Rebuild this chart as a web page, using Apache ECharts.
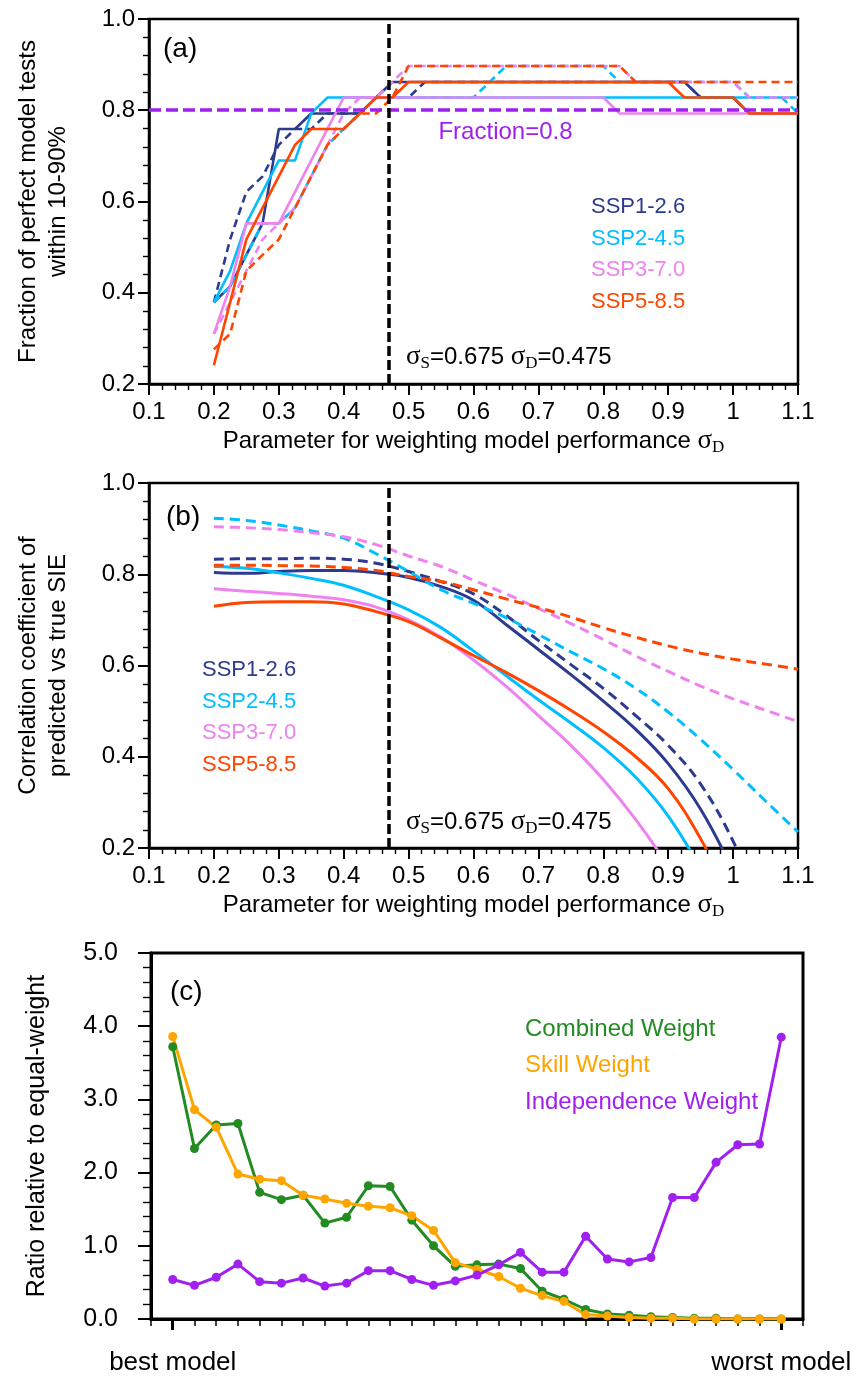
<!DOCTYPE html>
<html>
<head>
<meta charset="utf-8">
<script src="https://cdn.jsdelivr.net/npm/echarts@6/dist/echarts.min.js"></script>
<style>
html,body{margin:0;padding:0;background:#fff;}
#chart{width:860px;height:1376px;}
</style>
</head>
<body>
<div id="chart"></div>
<script>
// ---------------- DATA ----------------
// Panel (a): fraction of perfect model tests within 10-90%
const sigmaA = [0.2,0.225,0.25,0.275,0.3,0.325,0.35,0.375,0.4,0.425,0.45,0.475,0.5,0.525,0.55,0.575,0.6,0.625,0.65,0.675,0.7,0.725,0.75,0.775,0.8,0.825,0.85,0.875,0.9,0.925,0.95,0.975,1.0,1.025,1.05,1.075,1.1];
const a_ssp126_solid = [0.379,0.414,0.483,0.552,0.759,0.759,0.793,0.793,0.793,0.793,0.828,0.862,0.862,0.862,0.862,0.862,0.862,0.862,0.862,0.862,0.862,0.862,0.862,0.862,0.862,0.862,0.862,0.862,0.862,0.862,0.828,0.828,0.828,0.793,0.793,0.793,0.793];
const a_ssp126_dash  = [0.379,0.517,0.621,0.655,0.724,0.759,0.759,0.793,0.793,0.793,0.828,0.828,0.828,0.862,0.862,0.862,0.862,0.862,0.862,0.862,0.862,0.862,0.862,0.862,0.862,0.862,0.862,0.862,0.862,0.862,0.828,0.828,0.828,0.793,0.793,0.793,0.793];
const a_ssp245_solid = [0.379,0.448,0.552,0.621,0.690,0.690,0.793,0.828,0.828,0.828,0.828,0.828,0.828,0.828,0.828,0.828,0.828,0.828,0.828,0.828,0.828,0.828,0.828,0.828,0.828,0.828,0.828,0.828,0.828,0.828,0.828,0.828,0.828,0.828,0.828,0.828,0.828];
const a_ssp245_dash  = [0.379,0.414,0.483,0.552,0.552,0.586,0.655,0.724,0.759,0.793,0.828,0.828,0.828,0.828,0.828,0.828,0.828,0.862,0.897,0.897,0.897,0.897,0.897,0.897,0.897,0.862,0.862,0.862,0.862,0.862,0.862,0.862,0.862,0.828,0.828,0.828,0.793];
const a_ssp370_solid = [0.310,0.414,0.552,0.552,0.552,0.621,0.690,0.759,0.828,0.828,0.828,0.828,0.828,0.828,0.828,0.828,0.828,0.828,0.828,0.828,0.828,0.828,0.828,0.828,0.828,0.793,0.793,0.793,0.793,0.793,0.793,0.793,0.793,0.793,0.793,0.793,0.793];
const a_ssp370_dash  = [0.310,0.379,0.448,0.517,0.552,0.586,0.655,0.724,0.793,0.828,0.828,0.862,0.897,0.897,0.897,0.897,0.897,0.897,0.897,0.897,0.897,0.897,0.897,0.897,0.897,0.897,0.862,0.862,0.862,0.862,0.862,0.862,0.862,0.828,0.828,0.828,0.828];
const a_ssp585_solid = [0.241,0.379,0.517,0.586,0.655,0.724,0.759,0.759,0.759,0.793,0.828,0.828,0.862,0.862,0.862,0.862,0.862,0.862,0.862,0.862,0.862,0.862,0.862,0.862,0.862,0.862,0.862,0.862,0.862,0.828,0.828,0.828,0.828,0.793,0.793,0.793,0.793];
const a_ssp585_dash  = [0.276,0.310,0.448,0.483,0.517,0.586,0.655,0.724,0.759,0.793,0.793,0.828,0.897,0.897,0.897,0.897,0.897,0.897,0.897,0.897,0.897,0.897,0.897,0.897,0.897,0.897,0.862,0.862,0.862,0.862,0.862,0.862,0.862,0.862,0.862,0.862,0.862];
const fractionThreshold = 0.8;
const chosenSigmaD = 0.475;

// Panel (b): correlation coefficient of predicted vs true SIE
const sigmaB = [0.2,0.25,0.3,0.35,0.4,0.45,0.5,0.55,0.6,0.65,0.7,0.75,0.8,0.85,0.9,0.95,1.0,1.05,1.1];
const b_ssp126_solid = [0.804,0.802,0.806,0.808,0.808,0.803,0.793,0.773,0.743,0.69,0.635,0.58,0.522,0.46,0.385,0.285,0.15];
const b_ssp126_dash  = [0.833,0.834,0.834,0.835,0.833,0.824,0.806,0.784,0.757,0.71,0.655,0.602,0.55,0.49,0.425,0.34,0.215,0.05];
const b_ssp245_solid = [0.817,0.813,0.803,0.791,0.776,0.751,0.722,0.683,0.632,0.578,0.525,0.474,0.42,0.355,0.27,0.155];
const b_ssp245_dash  = [0.923,0.918,0.908,0.895,0.879,0.845,0.806,0.766,0.736,0.705,0.668,0.63,0.593,0.55,0.498,0.438,0.372,0.303,0.235];
const b_ssp370_solid = [0.768,0.763,0.758,0.752,0.744,0.728,0.700,0.662,0.612,0.555,0.49,0.425,0.35,0.262,0.16,0.04];
const b_ssp370_dash  = [0.904,0.902,0.898,0.891,0.882,0.865,0.84,0.817,0.787,0.757,0.725,0.692,0.657,0.621,0.587,0.555,0.527,0.502,0.477];
const b_ssp585_solid = [0.730,0.738,0.740,0.740,0.735,0.718,0.696,0.66,0.622,0.585,0.545,0.502,0.455,0.40,0.33,0.22,0.08];
const b_ssp585_dash  = [0.820,0.820,0.819,0.818,0.815,0.808,0.795,0.784,0.766,0.746,0.727,0.706,0.683,0.662,0.643,0.627,0.614,0.603,0.592];

// Panel (c): ratio relative to equal weight, models ranked best -> worst
const modelRank = [0,1,2,3,4,5,6,7,8,9,10,11,12,13,14,15,16,17,18,19,20,21,22,23,24,25,26,27,28];
const rankLabels = {0:'best model', 28:'worst model'};
const rankEnds = [0, 28];
const combinedWeight = [3.72,2.33,2.65,2.67,1.73,1.63,1.69,1.31,1.39,1.82,1.81,1.35,1.00,0.72,0.74,0.75,0.69,0.38,0.27,0.13,0.07,0.05,0.03,0.02,0.01,0.01,0.0,0.0,0.0];
const skillWeight    = [3.86,2.86,2.62,1.98,1.91,1.89,1.69,1.64,1.58,1.54,1.52,1.41,1.21,0.77,0.68,0.58,0.42,0.32,0.24,0.06,0.04,0.02,0.01,0.01,0.0,0.0,0.0,0.0,0.0];
const independenceWeight = [0.54,0.46,0.57,0.75,0.51,0.49,0.56,0.45,0.49,0.66,0.66,0.54,0.46,0.52,0.60,0.74,0.91,0.64,0.64,1.13,0.82,0.78,0.84,1.66,1.66,2.14,2.38,2.39,3.85];

const sspNames = ['SSP1-2.6','SSP2-4.5','SSP3-7.0','SSP5-8.5'];
const weightNames = ['Combined Weight','Skill Weight','Independence Weight'];

// ---------------- STYLE ----------------
const C = {ssp126:'#2c3b8e', ssp245:'#00bfff', ssp370:'#ee82ee', ssp585:'#ff4500', purple:'#a020f0', green:'#228b22', orange:'#ffa500'};
const SANS = "'Liberation Sans', Arial, Helvetica, sans-serif";
const SERIF = "'Liberation Serif', 'Times New Roman', serif";

const pairs = (xs, ys) => ys.map((y, i) => [xs[i], y]);

function stepSeries(name, xs, ys, color, dashed, gi) {
  return {
    name, type: 'line', xAxisIndex: gi, yAxisIndex: gi,
    data: pairs(xs, ys), symbol: 'none', smooth: false,
    lineStyle: {color, width: 2.6, type: dashed ? [8, 5] : 'solid'},
    itemStyle: {color}, z: 3
  };
}
function smoothSeries(name, xs, ys, color, dashed, gi) {
  return {
    name, type: 'line', xAxisIndex: gi, yAxisIndex: gi,
    data: pairs(xs, ys), symbol: 'none', smooth: 0.4,
    lineStyle: {color, width: 3, type: dashed ? [10, 6] : 'solid'},
    itemStyle: {color}, z: 3
  };
}
function dotSeries(name, ys, color) {
  return {
    name, type: 'line', xAxisIndex: 2, yAxisIndex: 2,
    data: pairs(modelRank, ys), symbol: 'circle', symbolSize: 9,
    lineStyle: {color, width: 3}, itemStyle: {color}, z: 3
  };
}

const sigmaRich = {
  s: {fontFamily: SERIF, fontSize: 27, fontWeight: 'normal', color: '#000', lineHeight: 30},
  d: {fontFamily: SERIF, fontSize: 17, fontWeight: 'normal', color: '#000', lineHeight: 17, verticalAlign: 'bottom'},
  t: {fontFamily: SANS, fontSize: 24, fontWeight: 'normal', color: '#000', lineHeight: 30}
};

function perfXAxis(gi) {
  return {
    gridIndex: gi, type: 'value', min: 0.1, max: 1.1, interval: 0.1,
    axisLine: {show: true, onZero: false, lineStyle: {color: '#000', width: 2.5}},
    axisTick: {show: true, length: 11, lineStyle: {color: '#000', width: 2}},
    minorTick: {show: true, splitNumber: 5, length: 6, lineStyle: {color: '#000', width: 1.4}},
    splitLine: {show: false},
    axisLabel: {
      color: '#000', fontSize: 24, fontFamily: SANS, margin: 16,
      formatter: v => Math.abs(v - 1) < 1e-9 ? '1' : v.toFixed(1)
    },
    name: '{t|Parameter for weighting model performance }{s|σ}{d|D}',
    nameLocation: 'middle', nameGap: 42,
    nameTextStyle: {fontWeight: 'normal', rich: sigmaRich}
  };
}
function perfYAxis(gi, name) {
  return {
    gridIndex: gi, type: 'value', min: 0.2, max: 1.0, interval: 0.2,
    axisLine: {show: true, onZero: false, lineStyle: {color: '#000', width: 2.5}},
    axisTick: {show: true, length: 11, lineStyle: {color: '#000', width: 2}},
    minorTick: {show: true, splitNumber: 5, length: 6, lineStyle: {color: '#000', width: 1.4}},
    splitLine: {show: false},
    axisLabel: {color: '#000', fontSize: 24, fontFamily: SANS, margin: 14, formatter: v => v.toFixed(1)},
    name, nameLocation: 'middle', nameRotate: 90, nameGap: 76,
    nameTextStyle: {color: '#000', fontSize: 24, fontFamily: SANS, lineHeight: 30}
  };
}
function textLegend(names, colors, left, top, size, gap) {
  return {
    orient: 'vertical', left, top, icon: 'none', itemWidth: 0, itemHeight: size, itemGap: gap,
    selectedMode: false,
    data: names.map((n, i) => ({name: n, textStyle: {color: colors[i], fontSize: size, fontFamily: SANS}})),
    textStyle: {fontSize: size, fontFamily: SANS}
  };
}

const sspColors = [C.ssp126, C.ssp245, C.ssp370, C.ssp585];
const panelTitle = (t, left, top) => ({text: t, left, top, padding: 0,
  textStyle: {fontSize: 28, fontWeight: 'normal', color: '#000', fontFamily: SANS}});
const sigmaTitle = (left, top) => ({text: '{s|σ}{d|S}{t|=0.675 }{s|σ}{d|D}{t|=0.475}', left, top, padding: 0,
  textStyle: {fontWeight: 'normal', rich: sigmaRich}});

const option = {
  animation: false,
  backgroundColor: '#fff',
  textStyle: {fontFamily: SANS},
  grid: [
    {left: 149, right: 62, top: 19, height: 365, show: true, borderColor: '#000', borderWidth: 2.5, containLabel: false},
    {left: 149, right: 62, top: 483, height: 365, show: true, borderColor: '#000', borderWidth: 2.5, containLabel: false},
    {left: 151, right: 57, top: 953, height: 366, show: true, borderColor: '#000', borderWidth: 3, containLabel: false}
  ],
  xAxis: [
    perfXAxis(0),
    perfXAxis(1),
    {
      gridIndex: 2, type: 'value', min: -1, max: 29, interval: 1,
      axisLine: {show: true, onZero: false, lineStyle: {color: '#000', width: 3}},
      axisTick: {show: true, length: 7, lineStyle: {color: '#000', width: 1.5}},
      splitLine: {show: false},
      axisLabel: {color: '#000', fontSize: 26, fontFamily: SANS, margin: 31,
        formatter: v => rankLabels[v] || ''}
    },
    {
      // longer end ticks for best / worst model
      gridIndex: 2, type: 'value', min: -1, max: 29, position: 'bottom',
      axisLine: {show: false, onZero: false},
      axisTick: {show: true, length: 11, customValues: rankEnds, lineStyle: {color: '#000', width: 3}},
      axisLabel: {show: false},
      splitLine: {show: false}
    }
  ],
  yAxis: [
    perfYAxis(0, 'Fraction of perfect model tests\nwithin 10-90%'),
    perfYAxis(1, 'Correlation coefficient of\npredicted vs true SIE'),
    {
      gridIndex: 2, type: 'value', min: 0, max: 5, interval: 1,
      axisLine: {show: true, onZero: false, lineStyle: {color: '#000', width: 3}},
      axisTick: {show: true, length: 13, lineStyle: {color: '#000', width: 2}},
      minorTick: {show: true, splitNumber: 5, length: 8, lineStyle: {color: '#000', width: 1.4}},
      splitLine: {show: false},
      axisLabel: {color: '#000', fontSize: 25, fontFamily: SANS, margin: 33, formatter: v => v.toFixed(1)},
      name: 'Ratio relative to equal-weight', nameLocation: 'middle', nameRotate: 90, nameGap: 101,
      nameTextStyle: {color: '#000', fontSize: 25, fontFamily: SANS}
    }
  ],
  legend: [
    textLegend(sspNames, sspColors, 581, 191, 22, 9.5),
    textLegend(sspNames, sspColors, 192, 654, 22, 9.7),
    textLegend(weightNames, [C.green, C.orange, C.purple], 515, 1012, 24, 12.5)
  ],
  title: [
    panelTitle('(a)', 163, 35),
    panelTitle('(b)', 166, 503),
    panelTitle('(c)', 170, 978),
    sigmaTitle(406, 342),
    sigmaTitle(406, 807)
  ],
  series: [
    // panel (a)
    stepSeries('SSP1-2.6', sigmaA, a_ssp126_dash, C.ssp126, true, 0),
    stepSeries('SSP1-2.6', sigmaA, a_ssp126_solid, C.ssp126, false, 0),
    stepSeries('SSP2-4.5', sigmaA, a_ssp245_dash, C.ssp245, true, 0),
    stepSeries('SSP2-4.5', sigmaA, a_ssp245_solid, C.ssp245, false, 0),
    stepSeries('SSP3-7.0', sigmaA, a_ssp370_dash, C.ssp370, true, 0),
    stepSeries('SSP3-7.0', sigmaA, a_ssp370_solid, C.ssp370, false, 0),
    stepSeries('SSP5-8.5', sigmaA, a_ssp585_solid, C.ssp585, false, 0),
    stepSeries('SSP5-8.5', sigmaA, a_ssp585_dash, C.ssp585, true, 0),
    {
      name: 'Fraction=0.8', type: 'line', xAxisIndex: 0, yAxisIndex: 0, data: [], z: 5,
      markLine: {
        silent: true, symbol: 'none', animation: false,
        lineStyle: {color: C.purple, width: 3.5, type: [12, 5]},
        label: {show: true, position: 'insideMiddleBottom', formatter: 'Fraction=0.8', color: C.purple, fontSize: 24, fontFamily: SANS, distance: 10, offset: [32, 0]},
        data: [{yAxis: fractionThreshold}]
      }
    },
    {
      name: 'sigmaD-a', type: 'line', xAxisIndex: 0, yAxisIndex: 0, data: [], z: 6,
      markLine: {silent: true, symbol: 'none', animation: false, label: {show: false},
        lineStyle: {color: '#000', width: 3.5, type: [10, 4]}, data: [{xAxis: chosenSigmaD}]}
    },
    // panel (b)
    smoothSeries('SSP1-2.6', sigmaB, b_ssp126_dash, C.ssp126, true, 1),
    smoothSeries('SSP1-2.6', sigmaB, b_ssp126_solid, C.ssp126, false, 1),
    smoothSeries('SSP2-4.5', sigmaB, b_ssp245_dash, C.ssp245, true, 1),
    smoothSeries('SSP2-4.5', sigmaB, b_ssp245_solid, C.ssp245, false, 1),
    smoothSeries('SSP3-7.0', sigmaB, b_ssp370_dash, C.ssp370, true, 1),
    smoothSeries('SSP3-7.0', sigmaB, b_ssp370_solid, C.ssp370, false, 1),
    smoothSeries('SSP5-8.5', sigmaB, b_ssp585_dash, C.ssp585, true, 1),
    smoothSeries('SSP5-8.5', sigmaB, b_ssp585_solid, C.ssp585, false, 1),
    {
      name: 'sigmaD-b', type: 'line', xAxisIndex: 1, yAxisIndex: 1, data: [], z: 6,
      markLine: {silent: true, symbol: 'none', animation: false, label: {show: false},
        lineStyle: {color: '#000', width: 3.5, type: [10, 4]}, data: [{xAxis: chosenSigmaD}]}
    },
    // panel (c)
    dotSeries('Combined Weight', combinedWeight, C.green),
    dotSeries('Skill Weight', skillWeight, C.orange),
    dotSeries('Independence Weight', independenceWeight, C.purple)
  ]
};

const chart = echarts.init(document.getElementById('chart'), null, {renderer: 'canvas'});
chart.setOption(option);
</script>
</body>
</html>
